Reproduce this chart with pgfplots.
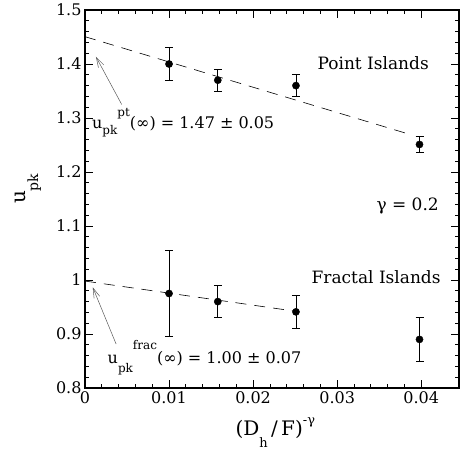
\documentclass[border=0pt]{standalone}
\usepackage{fontspec}
\setmainfont{DejaVu Serif}
\usepackage{pgfplots}
\pgfplotsset{compat=1.18}
\usetikzlibrary{arrows.meta}
\newcommand{\sm}{\fontsize{12}{12}\selectfont}
\begin{document}
\begin{tikzpicture}
\begin{axis}[
    scale only axis,
    width=374pt, height=378pt,
    xmin=0, xmax=0.0445,
    ymin=0.8, ymax=1.5,
    xtick={0,0.01,0.02,0.03,0.04},
    ytick={0.8,0.9,1,1.1,1.2,1.3,1.4,1.5},
    minor x tick num=4,
    minor y tick num=4,
    scaled x ticks=false,
    xticklabel style={/pgf/number format/fixed, /pgf/number format/precision=2},
    yticklabel style={/pgf/number format/fixed},
    /pgf/number format/assume math mode=true,
    tick label style={font=\fontsize{16}{16}\selectfont},
    tick align=inside,
    major tick length=8pt,
    minor tick length=4pt,
    tick style={black, line width=0.8pt},
    axis line style={line width=1.2pt},
    xlabel={\fontsize{20}{20}\selectfont (D\raisebox{-12pt}{\fontsize{13}{13}\selectfont h}\,/\,F)\raisebox{11pt}{\fontsize{13}{13}\selectfont -γ}},
    ylabel={\fontsize{20}{20}\selectfont u\raisebox{-13pt}{\fontsize{14}{14}\selectfont pk}},
    xlabel style={at={(axis description cs:0.509,-0.1257)}, anchor=base},
    ylabel style={at={(axis description cs:-0.1604,0.527)}, anchor=base},
    clip=false,
]
% point islands
\addplot[only marks, mark=*, mark size=3.6pt, black,
    error bars/.cd, y dir=both, y explicit,
    error bar style={line width=0.8pt},
    error mark options={rotate=90, mark size=4pt, line width=0.8pt}]
    coordinates {
    (0.0100,1.400) +- (0,0.030)
    (0.0158,1.370) +- (0,0.020)
    (0.0251,1.360) +- (0,0.020)
    (0.0398,1.251) +- (0,0.015)
};
% fractal islands
\addplot[only marks, mark=*, mark size=3.6pt, black,
    error bars/.cd, y dir=both, y explicit,
    error bar style={line width=0.8pt},
    error mark options={rotate=90, mark size=4pt, line width=0.8pt}]
    coordinates {
    (0.0100,0.975) +- (0,0.080)
    (0.0158,0.960) +- (0,0.030)
    (0.0251,0.941) +- (0,0.030)
    (0.0398,0.890) +- (0,0.040)
};
% fits
\addplot[black, line width=0.6pt, dash pattern=on 11pt off 8pt] coordinates {(0,1.4506) (0.0389,1.2685)};
\addplot[black, line width=0.6pt, dash pattern=on 11pt off 8pt] coordinates {(0,0.998) (0.0251,0.942)};
% arrows
\draw[gray!70!black, line width=0.5pt, -{Straight Barb[length=10pt,width=6pt]}] (axis cs:0.00437,1.325) -- (axis cs:0.0013,1.4135);
\draw[gray!70!black, line width=0.5pt, -{Straight Barb[length=10pt,width=6pt]}] (axis cs:0.0037,0.8815) -- (axis cs:0.00092,0.9865);
% labels
\node[anchor=base, font=\fontsize{17}{17}\selectfont] at (axis cs:0.03429,1.3902) {Point Islands};
\node[anchor=base, font=\fontsize{17}{17}\selectfont] at (axis cs:0.03839,1.1296) {γ = 0.2};
\node[anchor=base, font=\fontsize{17}{17}\selectfont] at (axis cs:0.03464,0.9939) {Fractal Islands};
\node[anchor=base west, inner sep=0pt, font=\fontsize{16}{16}\selectfont] at (axis cs:0.00083,1.2806)
    {u\raisebox{-6pt}{\sm pk}\raisebox{11.6pt}{\sm pt}(∞) = 1.47 ± 0.05};
\node[anchor=base west, inner sep=0pt, font=\fontsize{16}{16}\selectfont] at (axis cs:0.00268,0.8457)
    {u\raisebox{-9.3pt}{\sm pk}\raisebox{14pt}{\sm frac}(∞) = 1.00 ± 0.07};
\end{axis}
\pgfresetboundingbox
\path[use as bounding box] (-85pt,-64pt) rectangle (375pt,388pt);
\end{tikzpicture}
\end{document}
